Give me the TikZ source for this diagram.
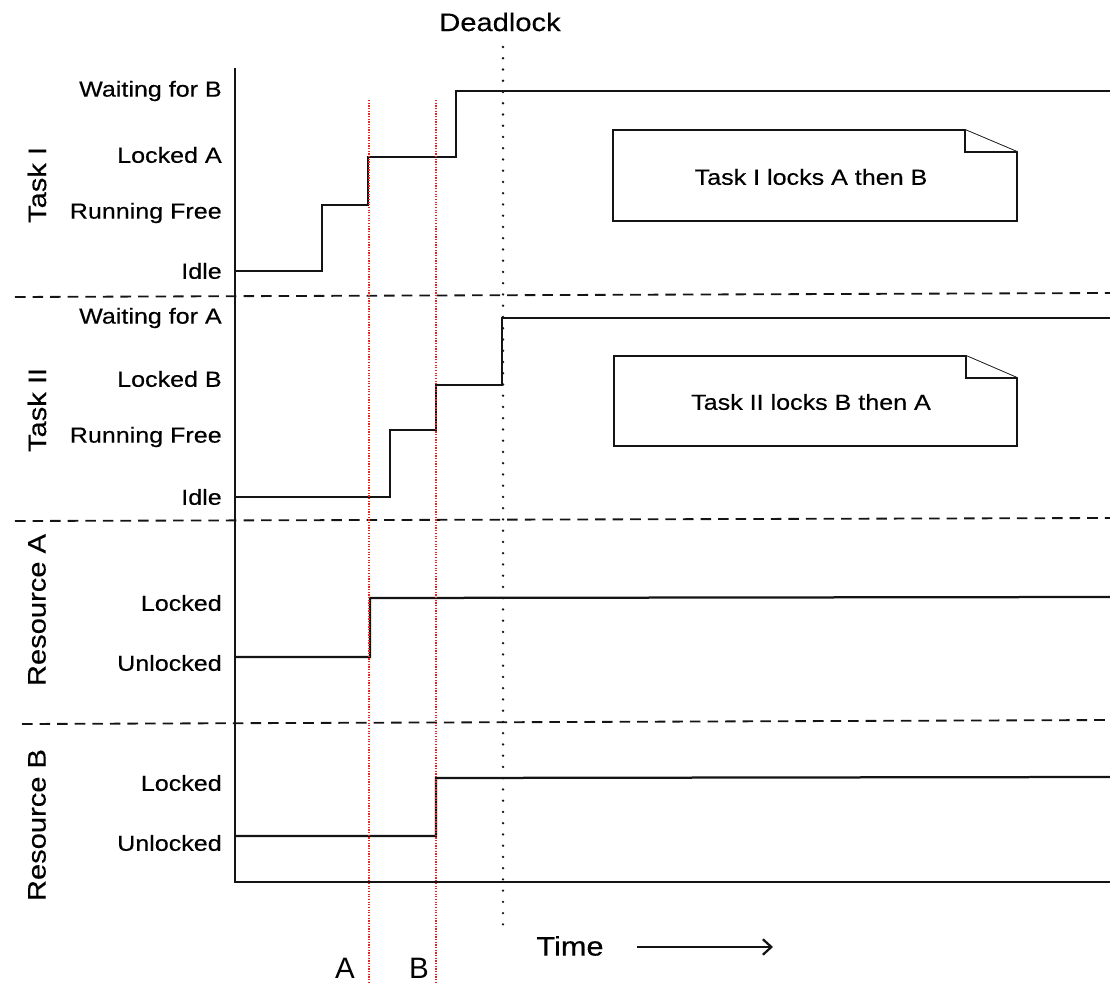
\documentclass[tikz,border=0pt]{standalone}
\usepackage{fontspec}
\setmainfont[FakeStretch=1.15,FakeBold=0.35]{Liberation Sans}
\newfontfamily\plainfont{Liberation Sans}
\usepackage{xcolor}
\usepackage{tikz}
\usetikzlibrary{arrows.meta}
\definecolor{ink}{HTML}{141414}
\definecolor{cutred}{HTML}{E8261E}

\begin{document}
\begin{tikzpicture}[x=0.025cm,y=-0.025cm,
  lvl/.style={anchor=east,inner sep=0pt,font=\fontsize{15.5}{18}\selectfont},
  grp/.style={rotate=90,inner sep=0pt,font=\fontsize{18}{20}\selectfont},
  sig/.style={ink,line width=1.6pt},
  sep/.style={ink,line width=1.3pt,dash pattern=on 7.5pt off 5pt},
  notebox/.style={ink,line width=1.3pt,fill=white},
  cut/.style={cutred,line width=0.9pt,densely dotted}]
\useasboundingbox (0,0) rectangle (1110,983);
% separators and axes
\draw[sep] (15,297)--(1110,293);
\draw[sep] (15,521)--(1110,518);
\draw[sep] (22,724)--(1110,720);
\draw[ink,line width=1.6pt] (235,68)--(235,882)--(1110,882);
% state names
\node[grp] (t1) at (37,185) {Task I};
\node[lvl] (t1w) at (222,91) {Waiting for B};
\node[lvl] (t1l) at (222,155) {Locked A};
\node[lvl] (t1r) at (222,213) {Running Free};
\node[lvl] (t1i) at (222,271) {Idle};
\node[grp] (t2) at (37,410) {Task II};
\node[lvl] (t2w) at (222,318) {Waiting for A};
\node[lvl] (t2l) at (222,379) {Locked B};
\node[lvl] (t2r) at (222,437) {Running Free};
\node[lvl] (t2i) at (222,497) {Idle};
\node[grp] (ra) at (37,610) {Resource A};
\node[lvl] (ral) at (222,603) {Locked};
\node[lvl] (rau) at (222,663) {Unlocked};
\node[grp] (rb) at (37,825) {Resource B};
\node[lvl] (rbl) at (222,783) {Locked};
\node[lvl] (rbu) at (222,843) {Unlocked};
% traces
\draw[sig] (235,271)-|(322,205)-|(368,157)-|(456,91)--(1110,91);
\draw[sig] (235,497)-|(390,430)-|(436,385)-|(502,318)--(1110,318);
\draw[sig] (235,657)-|(370,598)--(1110,597);
\draw[sig] (235,836)-|(436,778)--(1110,777);
% notes
\draw[notebox] (613,130)--(965,130)--(1017,152)--(1017,221)--(613,221)--cycle;
\draw[notebox] (965,130)--(965,152)--(1017,152);
\node[font=\fontsize{15.5}{18}\selectfont] (n1) at (811,177) {Task I locks A then B};
\draw[notebox] (614,356)--(966,356)--(1017,378)--(1017,446)--(614,446)--cycle;
\draw[notebox] (966,356)--(966,378)--(1017,378);
\node[font=\fontsize{15.5}{18}\selectfont] (n2) at (811,402) {Task II locks B then A};
% deadlock
\node[font=\fontsize{18}{20}\selectfont] (dl) at (500,22) {Deadlock};
\coordinate (d0) at (503,47);
\coordinate (d1) at (503,925);
\draw[ink,line width=1.8pt,line cap=round,dash pattern=on 0pt off 8pt] (d0)--(d1);
% lock instants
\node[font=\plainfont\fontsize{21}{24}\selectfont] (ma) at (345,968) {A};
\node[font=\plainfont\fontsize{21}{24}\selectfont] (mb) at (419,968) {B};
\draw[cut] (369,100)--(369,983);
\draw[cut] (436,100)--(436,983);
% time
\node[font=\fontsize{19}{21}\selectfont] (time) at (570,946) {Time};
\coordinate (ta) at (637,947);
\coordinate (tb) at (773,947);
\draw[ink,line width=1.6pt,-{Straight Barb[length=6pt,width=11pt]}] (ta)--(tb);
\end{tikzpicture}
\end{document}
